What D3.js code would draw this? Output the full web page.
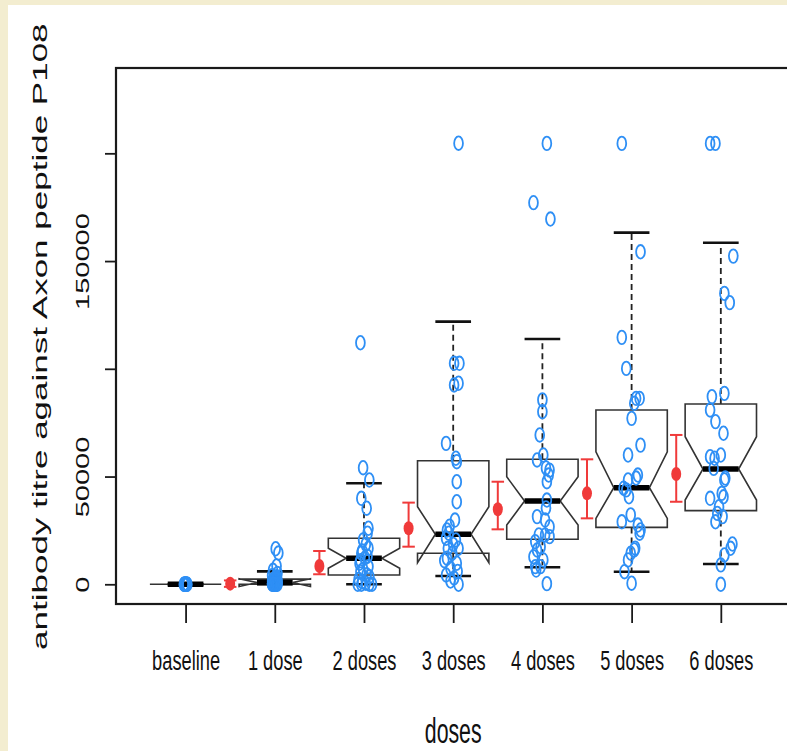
<!DOCTYPE html>
<html>
<head>
<meta charset="utf-8">
<script src="https://cdn.jsdelivr.net/npm/d3@7"></script>
<style>
  html, body { margin: 0; padding: 0; background: #f3edd0; }
  svg { display: block; }
  text { font-family: "Liberation Sans", Arial, Helvetica, sans-serif; fill: #111; }
</style>
</head>
<body>
<svg id="chart" width="787" height="751"></svg>
<script>
// ---------------- DATA ----------------
const categories = ["baseline", "1 dose", "2 doses", "3 doses", "4 doses", "5 doses", "6 doses"];

// box-plot statistics per category
const whiskerLow  = [0, 0, 0, 3850, 7900, 5850, 9400];
const q1          = [0, 0, 4300, 14400, 20900, 26400, 34200];
const medians     = [0, 800, 12060, 23200, 38650, 44800, 53500];
const q3          = [0, 2400, 21350, 57360, 58000, 80900, 83700];
const whiskerHigh = [0, 6000, 46870, 121900, 113800, 163200, 158500];
const notchLow    = [0, -1000, 7400, 10000, 27500, 30600, 39100];
const notchHigh   = [0, 2600, 16700, 36000, 49900, 61500, 68500];

// individual titres: [value, horizontal jitter in category units]
const ptsBaseline = [[0,-0.02],[0,-0.01],[0,0],[0,0.01],[0,0.02],[0,0],[0,-0.015],[0,0.015],[0,0.005],[0,-0.005],
  [0,0.01],[0,-0.01]];
const ptsDose1 = [[16500,0.01],[14500,0.04],[8500,0.02],[6500,-0.02],[5000,0.03],[4000,-0.03],[3500,0.02],[3000,0.01],
  [2500,-0.01],[2200,0.02],[2000,0.03],[1800,-0.02],[1500,-0.03],[1200,0.02],[1000,0],[900,0.03],[800,-0.02],[600,0.03],
  [500,-0.03],[400,-0.01],[300,0.02],[200,-0.03],[100,0.01],[0,0],[0,-0.02],[0,0.02],[0,0.03],[0,-0.03],[0,0.01],[0,-0.01]];
const ptsDose2 = [[112100,-0.04],[54100,-0.01],[48400,0.06],[39900,-0.03],[35300,0.03],[26000,0.05],[23700,0.04],
  [20600,-0.01],[18500,0.02],[16700,0.05],[15500,-0.02],[14400,-0.03],[13000,0.04],[12200,0.01],[11000,-0.04],
  [9750,-0.05],[8200,0.05],[7000,-0.01],[5850,-0.04],[4500,0.03],[3500,0.06],[2200,-0.06],[1200,-0.02],[500,0.02],
  [0,-0.07],[0,0.06],[0,-0.03],[0,0.09]];
const ptsDose3 = [[204700,0.06],[102550,0.01],[102550,0.07],[92500,0.01],[93300,0.06],[65400,-0.08],[58500,0.03],
  [56900,0.04],[47600,0.04],[38300,0.04],[29800,0.02],[27000,-0.04],[25200,-0.07],[23700,-0.05],[21350,-0.08],
  [20550,0.03],[18500,0],[16700,-0.06],[16700,0.06],[14400,-0.01],[12060,-0.07],[11000,-0.1],[9750,0.04],
  [7400,-0.03],[6000,0.05],[4300,-0.08],[2900,0.01],[1500,-0.03],[0,0.06]];
const ptsDose4 = [[204600,0.05],[177100,-0.10],[169500,0.09],[85600,0],[80100,0],[69300,-0.03],[60000,0.01],
  [57700,-0.06],[54000,0.04],[53000,0.08],[50700,0.07],[47600,0.05],[39100,0.05],[35400,0.04],[31400,-0.06],
  [29800,0.03],[26700,0.08],[22900,-0.04],[22900,0.03],[22100,0.08],[19800,-0.08],[17400,-0.02],[15900,-0.06],
  [12800,-0.10],[11300,0.01],[8200,-0.08],[8200,-0.02],[6600,-0.07],[300,0.05]];
const ptsDose5 = [[204600,-0.11],[154300,0.10],[114600,-0.11],[100200,-0.06],[86300,0.05],[86300,0.09],[84000,0.03],
  [77000,0],[64600,0.10],[60000,-0.04],[50700,0.07],[49300,0.05],[48400,-0.04],[44600,-0.09],[43800,-0.06],
  [40600,-0.03],[32200,-0.01],[29000,-0.11],[27500,0.07],[25200,0.10],[23700,0.09],[16800,0.04],[15900,0.03],
  [14400,-0.01],[11300,-0.04],[5850,-0.08],[500,0]];
const ptsDose6 = [[204600,-0.12],[204600,-0.06],[152300,0.14],[135000,0.04],[130700,0.10],[88600,0.04],[87100,-0.10],
  [80900,-0.12],[75500,-0.06],[70100,0.03],[60000,0],[59200,-0.12],[58500,-0.07],[53800,-0.08],[49300,0.05],
  [48400,0.04],[42200,0.01],[40600,0.03],[39900,-0.12],[36000,-0.02],[32900,-0.04],[31400,0.02],[29000,-0.06],
  [18700,0.13],[16700,0.11],[13600,0.04],[9000,0],[0,0]];
const pointGroups = [ptsBaseline, ptsDose1, ptsDose2, ptsDose3, ptsDose4, ptsDose5, ptsDose6];

// model means with confidence intervals, shown between successive categories
const meanVals = [300, 8500, 26000, 34800, 42200, 51200];
const ciLow    = [-1200, 4650, 17450, 25500, 30600, 38300];
const ciHigh   = [1800, 15450, 37900, 47600, 58000, 69300];

const yTicks = [0, 50000, 100000, 150000, 200000];
const yTickLabels = ["0", "50000", "", "150000", ""];
const xTitle = "doses";
const yTitle = "antibody titre against Axon peptide P108";

// ---------------- DRAWING ----------------
const svg = d3.select("#chart");
const W = 787, H = 751;
const plot = { left: 116, right: 790.4, top: 68, bottom: 604 };

// white page panel
svg.append("rect").attr("x", 8).attr("y", 5).attr("width", W - 8).attr("height", H - 5).attr("fill", "#ffffff");

const x = d3.scaleLinear().domain([0.22, categories.length + 0.78]).range([plot.left, plot.right]);
const y = d3.scaleLinear().domain([-9150, 239600]).range([plot.bottom, plot.top]);

const unit = x(2) - x(1);
const boxHalf = 0.4 * unit;

const g = svg.append("g");

// boxes
categories.forEach((c, i) => {
  const cx = x(i + 1);
  // whiskers (dashed)
  g.append("line").attr("x1", cx).attr("x2", cx).attr("y1", y(q3[i])).attr("y2", y(whiskerHigh[i]))
    .attr("stroke", "#222").attr("stroke-width", 1.8).attr("stroke-dasharray", "6,4");
  g.append("line").attr("x1", cx).attr("x2", cx).attr("y1", y(q1[i])).attr("y2", y(whiskerLow[i]))
    .attr("stroke", "#222").attr("stroke-width", 1.8).attr("stroke-dasharray", "6,4");
  // staples
  [whiskerHigh[i], whiskerLow[i]].forEach(v => {
    g.append("line").attr("x1", cx - boxHalf / 2).attr("x2", cx + boxHalf / 2).attr("y1", y(v)).attr("y2", y(v))
      .attr("stroke", "#111").attr("stroke-width", 2.6);
  });
  // notched box
  const pts = [
    [cx - boxHalf, q1[i]], [cx + boxHalf, q1[i]], [cx + boxHalf, notchLow[i]], [cx + boxHalf / 2, medians[i]],
    [cx + boxHalf, notchHigh[i]], [cx + boxHalf, q3[i]], [cx - boxHalf, q3[i]], [cx - boxHalf, notchHigh[i]],
    [cx - boxHalf / 2, medians[i]], [cx - boxHalf, notchLow[i]]
  ];
  g.append("path")
    .attr("d", d3.line().x(p => p[0]).y(p => y(p[1]))(pts) + "Z")
    .attr("fill", "none").attr("stroke", "#333").attr("stroke-width", 1.6).attr("stroke-linejoin", "miter");
  // median
  g.append("line").attr("x1", cx - boxHalf / 2).attr("x2", cx + boxHalf / 2)
    .attr("y1", y(medians[i])).attr("y2", y(medians[i]))
    .attr("stroke", "#000").attr("stroke-width", 5.5);
});

// points
pointGroups.forEach((grp, i) => {
  g.selectAll(null).data(grp).enter().append("ellipse")
    .attr("cx", d => x(i + 1 + d[1]))
    .attr("cy", d => y(d[0]))
    .attr("rx", 4.4).attr("ry", 6.8)
    .attr("fill", "none").attr("stroke", "#2e8ff5").attr("stroke-width", 1.8);
});

// means + CI
const red = "#f03a3a";
meanVals.forEach((m, i) => {
  const cx = x(i + 1.5);
  const capHalf = 0.07 * unit;
  g.append("line").attr("x1", cx).attr("x2", cx).attr("y1", y(ciLow[i])).attr("y2", y(ciHigh[i]))
    .attr("stroke", red).attr("stroke-width", 2);
  [ciLow[i], ciHigh[i]].forEach(v => {
    g.append("line").attr("x1", cx - capHalf).attr("x2", cx + capHalf).attr("y1", y(v)).attr("y2", y(v))
      .attr("stroke", red).attr("stroke-width", 2);
  });
  g.append("ellipse").attr("cx", cx).attr("cy", y(m)).attr("rx", 5).attr("ry", 7).attr("fill", red);
});

// frame
svg.append("rect").attr("x", plot.left).attr("y", plot.top)
  .attr("width", plot.right - plot.left).attr("height", plot.bottom - plot.top)
  .attr("fill", "none").attr("stroke", "#1a1a1a").attr("stroke-width", 2.2);

// y axis
const yAxisG = svg.append("g").attr("transform", `translate(${plot.left},0)`)
  .call(d3.axisLeft(y).tickValues(yTicks).tickSize(11).tickFormat((d, i) => yTickLabels[i]));
yAxisG.select(".domain").remove();
yAxisG.selectAll(".tick line").attr("stroke", "#1a1a1a").attr("stroke-width", 1.8);
yAxisG.selectAll(".tick text")
  .attr("x", null).attr("dy", null).attr("text-anchor", "middle")
  .attr("font-size", 29).attr("fill", "#111")
  .attr("transform", "translate(-27,0) scale(0.63,1) rotate(-90)");

// x axis
const xAxisG = svg.append("g").attr("transform", `translate(0,${plot.bottom})`)
  .call(d3.axisBottom(x).tickValues(d3.range(1, categories.length + 1)).tickSize(19)
    .tickFormat(d => categories[d - 1]));
xAxisG.select(".domain").remove();
xAxisG.selectAll(".tick line").attr("stroke", "#1a1a1a").attr("stroke-width", 1.8);
xAxisG.selectAll(".tick text")
  .attr("y", null).attr("dy", null).attr("text-anchor", "middle")
  .attr("font-size", 28).attr("fill", "#111")
  .attr("transform", "translate(0,66) scale(0.652,1)");

// titles
svg.append("text").text(xTitle)
  .attr("text-anchor", "middle").attr("font-size", 35.5)
  .attr("transform", `translate(${(plot.left + plot.right) / 2},743.3) scale(0.6,1)`);
svg.append("text").text(yTitle)
  .attr("text-anchor", "middle").attr("font-size", 35)
  .attr("transform", `translate(46.7,${(plot.top + plot.bottom) / 2 + 0.7}) scale(0.6,1) rotate(-90)`);
</script>
</body>
</html>
